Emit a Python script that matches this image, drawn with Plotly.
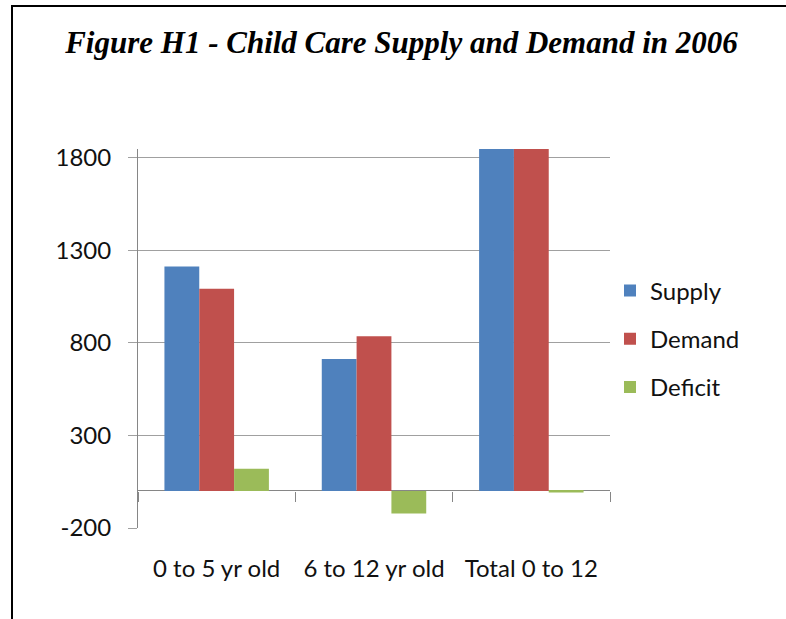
import plotly.graph_objects as go

categories = ["0 to 5 yr old", "6 to 12 yr old", "Total 0 to 12"]
supply = [1212, 713, 1925]
demand = [1092, 835, 1927]
deficit = [120, -122, -8]
y_ticks = [-200, 300, 800, 1300, 1800]
title_text = "Figure H1 - Child Care Supply and Demand in 2006"

W, H = 786, 619
L, R, T, B = 138, 176, 149, 91
y_min, y_max = -200, 1847
plot_w = W - L - R
plot_h = H - T - B

label_font = dict(family="Lato, 'Noto Sans', sans-serif", size=24, color="#111111")

fig = go.Figure()
fig.add_trace(go.Bar(name="Supply", x=categories, y=supply, marker_color="#4F81BD",
                     marker_line_width=0, legendgroup="a"))
fig.add_trace(go.Bar(name="Demand", x=categories, y=demand, marker_color="#C0504D",
                     marker_line_width=0, legendgroup="b"))
fig.add_trace(go.Bar(name="Deficit", x=categories, y=deficit, marker_color="#9BBB59",
                     marker_line_width=0, legendgroup="c"))
# invisible trace to carry the category tick axis sitting on the zero line
fig.add_trace(go.Scatter(x=categories, y=[None] * len(categories), xaxis="x2", yaxis="y",
                         showlegend=False, hoverinfo="skip", mode="markers"))

zero_pos = (0 - y_min) / (y_max - y_min)

fig.update_layout(
    width=W, height=H,
    margin=dict(l=L, r=R, t=T, b=B, autoexpand=False),
    paper_bgcolor="white", plot_bgcolor="white",
    barmode="group", bargap=0.336, bargroupgap=0,
    title=dict(text=f"<b><i>{title_text}</i></b>",
               font=dict(family="'Liberation Serif', 'DejaVu Serif', serif", size=31, color="#000000"),
               x=401.5 / W, xanchor="center", xref="container",
               y=1 - 42 / H, yanchor="middle", yref="container"),
    xaxis=dict(type="category", categoryarray=categories, range=[-0.5, 2.5],
               showline=False, ticks="", showgrid=False, zeroline=False,
               tickfont=label_font, ticklabelstandoff=24),
    xaxis2=dict(type="category", categoryarray=categories, range=[-0.5, 2.5],
                overlaying="x", anchor="free", position=zero_pos, side="bottom",
                tickson="boundaries", ticks="outside", ticklen=10, tickcolor="#868686",
                tickwidth=1, showticklabels=False, showline=False, showgrid=False,
                zeroline=False),
    yaxis=dict(range=[y_min, y_max], tickvals=y_ticks, ticktext=[str(v) for v in y_ticks],
               showline=True, linecolor="#868686", linewidth=1,
               showgrid=True, gridcolor="#A0A0A0", gridwidth=1,
               zeroline=True, zerolinecolor="#868686", zerolinewidth=1,
               ticks="outside", ticklen=9, tickcolor="#A0A0A0", tickwidth=1,
               tickfont=label_font, ticklabelstandoff=12),
    legend=dict(x=(610 - L) / plot_w, xanchor="left", y=(H - B - 339) / plot_h, yanchor="middle",
                font=label_font, tracegroupgap=14, bgcolor="rgba(0,0,0,0)"),
    shapes=[
        dict(type="line", xref="paper", yref="paper",
             x0=(12 - L) / plot_w, x1=(12 - L) / plot_w,
             y0=(H - B - 6) / plot_h, y1=(H - B - 625) / plot_h,
             line=dict(color="black", width=2)),
        dict(type="line", xref="paper", yref="paper",
             x0=(11 - L) / plot_w, x1=(800 - L) / plot_w,
             y0=(H - B - 6) / plot_h, y1=(H - B - 6) / plot_h,
             line=dict(color="black", width=2)),
    ],
)

fig.write_html("out.html")
